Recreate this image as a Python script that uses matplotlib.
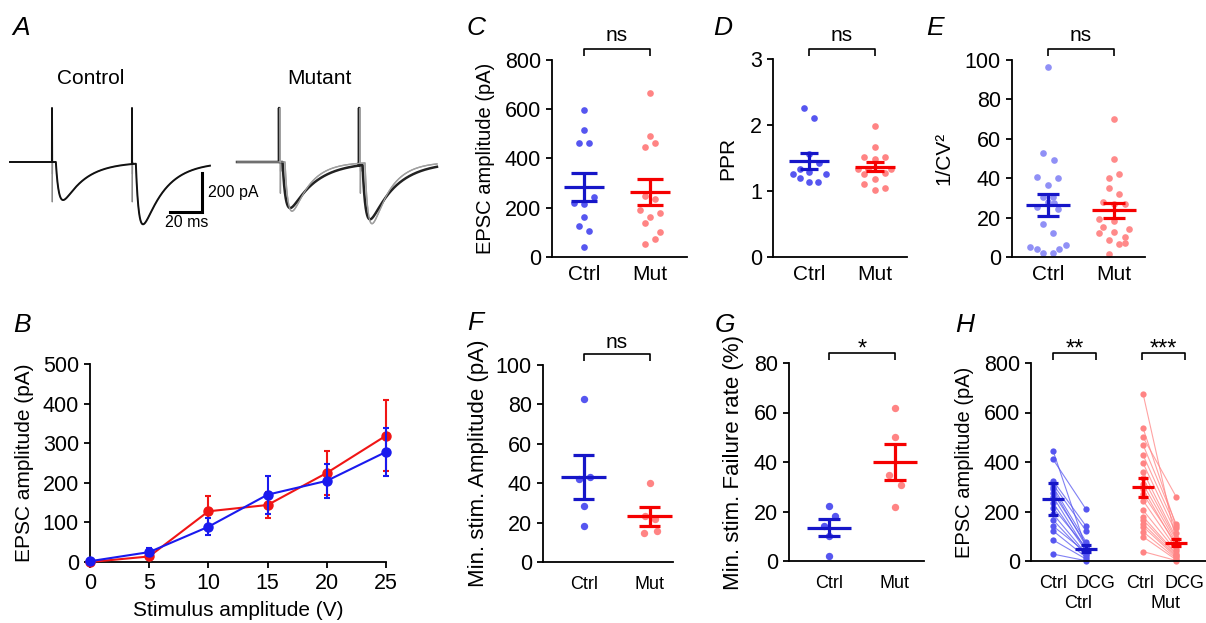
import numpy as np
import matplotlib
matplotlib.use('Agg')
import matplotlib.pyplot as plt
from matplotlib.transforms import blended_transform_factory

plt.rcParams['font.family'] = ['Liberation Sans', 'DejaVu Sans']

W, H = 1206, 623

# ---------------- data ----------------
# A: example traces (parameters)
sweep_ms = 125.0
stim_times = [26.25, 76.25]
ctrl_amps = [195, 313]
mut_amps_dark = [236, 282]
mut_amps_grey = [252, 313]
art_up = 277
art_down_ctrl = -205
art_down_mut = -160
tau_rise = [2.0, 2.0, 2.2]      # control, mutant dark, mutant grey
tau_decay = [14.0, 16.0, 11.0]
latency = [2.4, 2.2, 3.0]
mut_offset_ms = 141.9

# B: input-output
stim_v = [0, 5, 10, 15, 20, 25]
b_ctrl = [2, 25, 89, 170, 205, 278]
b_ctrl_err = [0, 10, 21, 48, 43, 61]
b_mut = [0, 14, 128, 144, 225, 319]
b_mut_err = [0, 5, 38, 33, 56, 90]

groups = ["Ctrl", "Mut"]

# C: EPSC amplitude
c_ctrl = [596, 515, 461, 461, 219, 215, 244, 163, 126, 106, 41]
c_ctrl_jit = [0, 0, -0.075, 0.075, -0.15, 0, 0.15, 0, -0.075, 0.075, 0]
c_mut = [667, 491, 447, 464, 248, 236, 191, 163, 179, 138, 102, 73, 53]
c_mut_jit = [0, 0, -0.075, 0.075, -0.075, 0.075, -0.15, 0, 0.15, -0.075, 0.15, 0.075, -0.075]
c_mean = [285, 264]
c_sem = [58, 54]

# D: PPR
d_ctrl = [2.25, 2.11, 1.56, 1.43, 1.26, 1.33, 1.29, 1.25, 1.20, 1.14, 1.14]
d_ctrl_jit = [-0.07, 0.08, 0, 0.15, -0.25, -0.14, 0, 0.25, -0.14, 0, 0.13]
d_mut = [1.98, 1.66, 1.51, 1.51, 1.48, 1.33, 1.33, 1.33, 1.25, 1.27, 1.18, 1.11, 1.01, 1.04]
d_mut_jit = [0, 0, -0.16, 0.15, 0, -0.26, -0.1, 0.25, -0.16, 0.15, 0, -0.16, 0, 0.15]
d_mean = [1.45, 1.37]
d_sem = [0.12, 0.07]

# E: 1/CV^2
e_ctrl = [96.6, 52.9, 49.2, 40.7, 40.3, 36.4, 30.5, 30.5, 28.0, 25.4, 27.6, 24.2,
          16.6, 12.4, 5.1, 3.9, 2.2, 2.2, 4.2, 5.9]
e_ctrl_jit = [0, -0.076, 0.086, -0.16, 0.15, 0, -0.076, 0.076, 0, -0.16, 0.086, 0.15,
              -0.076, 0.076, -0.27, -0.16, -0.076, 0.076, 0.17, 0.28]
e_mut = [69.8, 49.5, 40.3, 42.0, 35.1, 31.9, 28.0, 26.8, 27.1, 19.5, 15.3, 18.1,
         14.4, 12.7, 12.2, 8.8, 10.2, 6.8, 7.1, 1.7]
e_mut_jit = [0, 0, -0.08, 0.08, -0.08, 0.08, -0.16, 0, 0.16, -0.23, -0.16, 0,
             0.23, 0, -0.23, -0.08, 0.16, 0.08, 0.16, -0.08]
e_mean = [26.3, 23.7]
e_sem = [5.6, 3.7]

# F: minimal stimulation amplitude
f_ctrl = [82.9, 41.9, 43.2, 28.3, 18.5]
f_ctrl_jit = [0, -0.08, 0.086, 0, 0]
f_mut = [40.2, 23.2, 22.0, 14.9, 15.8]
f_mut_jit = [0, -0.07, 0.08, -0.09, 0.1]
f_mean = [43.2, 23.2]
f_sem = [11.0, 4.7]

# G: minimal stimulation failure rate
g_ctrl = [22.4, 18.0, 14.0, 9.9, 2.0]
g_ctrl_jit = [0, 0.086, -0.08, 0, 0]
g_mut = [61.8, 49.9, 34.8, 30.8, 21.7]
g_mut_jit = [0, 0, -0.09, 0.09, 0]
g_mean = [13.5, 40.0]
g_sem = [3.5, 7.2]

# H: DCG paired
h_ctrl_base = [446, 411, 325, 310, 300, 290, 275, 260, 235, 215, 190, 166, 141, 122, 85, 28]
h_ctrl_dcg = [52, 209, 141, 122, 78, 60, 70, 45, 40, 55, 30, 24, 35, 15, 8, 1]
h_mut_base = [675, 536, 500, 469, 428, 395, 361, 335, 310, 290, 270, 244, 205, 179,
              166, 150, 139, 118, 98, 38]
h_mut_dcg = [80, 140, 260, 150, 133, 113, 93, 85, 75, 60, 70, 50, 40, 30, 25, 20,
             15, 10, 5, 2]
h_mean = [250, 50, 298, 74]
h_sem = [64, 14, 38, 14]
h_ticklabels = ["Ctrl", "DCG", "Ctrl", "DCG"]
h_grouplabels = ["Ctrl", "Mut"]

# ---------------- styles ----------------
CTRL_DOT = "#5656f0"
MUT_DOT = "#ff8484"
CTRL_DOT_E = "#9090f6"
MUT_DOT_E = "#ff8a8a"
CTRL_LINE = "#1616c8"
MUT_LINE = "#f50000"
B_BLUE = "#1a1aee"
B_RED = "#f01515"
YTICK = 15.5

fig = plt.figure(figsize=(W / 100, H / 100), dpi=100)


def px_axes(l, t, r, b):
    return fig.add_axes([l / W, 1 - b / H, (r - l) / W, (b - t) / H])


def style(ax, xtick_size=15, xpad=6):
    for s in ['top', 'right']:
        ax.spines[s].set_visible(False)
    for s in ['left', 'bottom']:
        ax.spines[s].set_linewidth(1.3)
    ax.tick_params(axis='y', direction='out', length=4, width=1.3, labelsize=YTICK, pad=4)
    ax.tick_params(axis='x', length=0, labelsize=xtick_size, pad=xpad)


def letter(x, y, s):
    fig.text(x / W, 1 - y / H, s, fontsize=19, style='italic', ha='center', va='center')


def bracket(ax, x1, x2, ax_h, text, top_px=11, text_px=19, fs=15):
    tr = blended_transform_factory(ax.transData, ax.transAxes)
    yt = 1 + top_px / ax_h
    yb = 1 + (top_px - 7) / ax_h
    ax.plot([x1, x1, x2, x2], [yb, yt, yt, yb], transform=tr, color='k', lw=1.2,
            clip_on=False, solid_capstyle='butt')
    ax.text((x1 + x2) / 2, 1 + text_px / ax_h, text, transform=tr, ha='center',
            va='baseline', fontsize=fs)


def mean_sem(ax, x, m, s, color, half, cap):
    ax.hlines(m, x - half, x + half, color=color, lw=2.3, zorder=4)
    ax.vlines(x, m - s, m + s, color=color, lw=2.3, zorder=4)
    ax.hlines([m - s, m + s], x - cap, x + cap, color=color, lw=2.3, zorder=4)


def dot_panel(ax, ctrl, cj, mut, mj, means, sems, dotcols, ms, half, cap):
    for i, (v, j) in enumerate([(ctrl, cj), (mut, mj)]):
        ax.plot(i + np.array(j), v, 'o', color=dotcols[i], ms=ms, mec='none',
                clip_on=False, zorder=2)
        mean_sem(ax, i, means[i], sems[i], [CTRL_LINE, MUT_LINE][i], half, cap)
    ax.set_xticks([0, 1])
    ax.set_xticklabels(groups)


# ---------------- A ----------------
axA = px_axes(0, 95, 450, 235)
axA.axis('off')
axA.set_xlim(-10 / 1.6, 440 / 1.6)
axA.set_ylim(-(235 - 162) / 0.195, (162 - 95) / 0.195)

dt = 0.05
t = np.arange(0, sweep_ms, dt)


def epsc(t0, amp, tr, td, lat):
    s = np.clip(t - t0 - lat, 0, None)
    tp = tr * td / (td - tr) * np.log(td / tr)
    norm = np.exp(-tp / td) - np.exp(-tp / tr)
    g = np.exp(-s / td) - np.exp(-s / tr)
    return -amp * g / norm


def make_trace(amps, k, down, shift=0.0):
    y = np.zeros_like(t)
    for st, a in zip(stim_times, amps):
        y += epsc(st + shift, a, tau_rise[k], tau_decay[k], latency[k])
    ys_full = y.copy()
    ys_up = y.copy()
    for st in stim_times:
        i0 = int(round((st + shift) / dt))
        ys_full[i0] = art_up
        ys_full[i0 + 3] = down
        ys_full[i0 + 6] = down * 0.3
        ys_up[i0] = art_up
        ys_up[i0 + 2] = 0
    return ys_full, ys_up


cf, cu = make_trace(ctrl_amps, 0, art_down_ctrl)
axA.plot(t, cf, color='#8a8a8a', lw=0.8)
axA.plot(t, cu, color='#111111', lw=1.4)

tm = t + mut_offset_ms
gf, gu = make_trace(mut_amps_grey, 2, art_down_mut, shift=0.7)
df, du = make_trace(mut_amps_dark, 1, art_down_mut * 0.6)
axA.plot(tm, gf, color='#9a9a9a', lw=1.0)
axA.plot(tm, du, color='#222222', lw=1.8)
axA.plot(tm, gu, color='#a0a0a0', lw=0.9)

# scale bar: 20 ms, 200 pA
sb_x = (202 - 10) / 1.6
sb_y = -(212 - 162) / 0.195
axA.plot([sb_x - 20, sb_x, sb_x], [sb_y, sb_y, sb_y + 200], color='k', lw=2.2,
         solid_joinstyle='miter')
axA.text(sb_x + 3.5, sb_y + 100, "200 pA", fontsize=11.5, ha='left', va='center')
axA.text(sb_x - 9.5, sb_y - 13, "20 ms", fontsize=11.5, ha='center', va='top')
fig.text(91 / W, 1 - 78 / H, "Control", fontsize=15, ha='center', va='center')
fig.text(319 / W, 1 - 78 / H, "Mutant", fontsize=15, ha='center', va='center')

# ---------------- B ----------------
axB = px_axes(90, 364, 386, 562)
style(axB, xtick_size=YTICK)
axB.errorbar(stim_v, b_mut, yerr=b_mut_err, color=B_RED, marker='o', ms=6.5, lw=1.5,
             elinewidth=1.5, capsize=2.5, capthick=1.5, clip_on=False, zorder=3)
axB.errorbar(stim_v, b_ctrl, yerr=b_ctrl_err, color=B_BLUE, marker='o', ms=6.5, lw=1.5,
             elinewidth=1.5, capsize=2.5, capthick=1.5, clip_on=False, zorder=4)
axB.set_xlim(0, 25)
axB.set_ylim(0, 500)
axB.set_xticks(stim_v)
axB.set_yticks([0, 100, 200, 300, 400, 500])
axB.tick_params(axis='x', length=4, width=1.3, direction='out', pad=4)
axB.set_xlabel("Stimulus amplitude (V)", fontsize=15, labelpad=5)
axB.set_ylabel("EPSC amplitude (pA)", fontsize=15, labelpad=6)

# ---------------- C ----------------
axC = px_axes(552, 60, 687, 257)
style(axC)
dot_panel(axC, c_ctrl, c_ctrl_jit, c_mut, c_mut_jit, c_mean, c_sem,
          [CTRL_DOT, MUT_DOT], 4.8, 0.31, 0.19)
axC.set_xlim(-0.485, 1.56)
axC.set_ylim(0, 800)
axC.set_yticks([0, 200, 400, 600, 800])
axC.set_ylabel("EPSC amplitude (pA)", fontsize=14.5, labelpad=7)
bracket(axC, 0, 1, 197, "ns")

# ---------------- D ----------------
axD = px_axes(773, 59, 907, 257)
style(axD)
dot_panel(axD, d_ctrl, d_ctrl_jit, d_mut, d_mut_jit, d_mean, d_sem,
          [CTRL_DOT, MUT_DOT], 4.8, 0.31, 0.14)
axD.set_xlim(-0.546, 1.485)
axD.set_ylim(0, 3)
axD.set_yticks([0, 1, 2, 3])
axD.set_ylabel("PPR", fontsize=15, labelpad=9)
bracket(axD, 0, 1, 198, "ns", top_px=10, text_px=18)

# ---------------- E ----------------
axE = px_axes(1012, 60, 1145, 257)
style(axE)
dot_panel(axE, e_ctrl, e_ctrl_jit, e_mut, e_mut_jit, e_mean, e_sem,
          [CTRL_DOT_E, MUT_DOT_E], 4.8, 0.33, 0.16)
axE.set_xlim(-0.546, 1.47)
axE.set_ylim(0, 100)
axE.set_yticks([0, 20, 40, 60, 80, 100])
axE.set_ylabel("1/CV²", fontsize=15, labelpad=8)
bracket(axE, 0, 1, 197, "ns")

# ---------------- F ----------------
axF = px_axes(543, 365, 673, 562)
style(axF, xtick_size=13, xpad=10)
dot_panel(axF, f_ctrl, f_ctrl_jit, f_mut, f_mut_jit, f_mean, f_sem,
          [CTRL_DOT, MUT_DOT], 5.3, 0.34, 0.16)
axF.set_xlim(-0.62, 1.35)
axF.set_ylim(0, 100)
axF.set_yticks([0, 20, 40, 60, 80, 100])
axF.set_ylabel("Min. stim. Amplitude (pA)", fontsize=16, labelpad=5)
bracket(axF, 0, 1, 197, "ns", top_px=11, text_px=17)

# ---------------- G ----------------
axG = px_axes(789, 363, 924, 561)
style(axG, xtick_size=13, xpad=10)
dot_panel(axG, g_ctrl, g_ctrl_jit, g_mut, g_mut_jit, g_mean, g_sem,
          [CTRL_DOT, MUT_DOT], 5.3, 0.33, 0.16)
axG.set_xlim(-0.605, 1.44)
axG.set_ylim(0, 80)
axG.set_yticks([0, 20, 40, 60, 80])
axG.set_ylabel("Min. stim. Failure rate (%)", fontsize=16, labelpad=7)
bracket(axG, 0, 1, 198, "*", top_px=10, text_px=7, fs=17)

# ---------------- H ----------------
axH = px_axes(1031, 363, 1206, 561)
style(axH, xtick_size=13, xpad=10)
h_pos = [0, 1, 2.73, 3.73]
h_ticks = [0, 1.3, 2.64, 3.98]
for (b, d, x0, x1, col) in [(h_ctrl_base, h_ctrl_dcg, h_pos[0], h_pos[1], CTRL_DOT),
                           (h_mut_base, h_mut_dcg, h_pos[2], h_pos[3], MUT_DOT)]:
    for yb, yd in zip(b, d):
        axH.plot([x0, x1], [yb, yd], color=col, lw=0.8, alpha=0.75, zorder=1,
                 clip_on=False)
    axH.plot([x0] * len(b), b, 'o', color=col, ms=4.5, mec='none', zorder=2, clip_on=False)
    axH.plot([x1] * len(d), d, 'o', color=col, ms=4.5, mec='none', zorder=2, clip_on=False)
for i in range(4):
    mean_sem(axH, h_pos[i], h_mean[i], h_sem[i], CTRL_LINE if i < 2 else MUT_LINE,
             0.33, 0.16)
axH.set_xlim(-0.667, 4.636)
axH.set_ylim(0, 800)
axH.set_yticks([0, 200, 400, 600, 800])
axH.set_xticks(h_ticks)
axH.set_xticklabels(h_ticklabels)
axH.set_ylabel("EPSC amplitude (pA)", fontsize=14.5, labelpad=7)
bracket(axH, 0, 1.3, 198, "**", top_px=10, text_px=7, fs=17)
bracket(axH, 2.7, 4.0, 198, "***", top_px=10, text_px=7, fs=17)
fig.text(1078 / W, 1 - 604 / H, h_grouplabels[0], fontsize=13, ha='center', va='center')
fig.text(1165 / W, 1 - 604 / H, h_grouplabels[1], fontsize=13, ha='center', va='center')

# panel letters
letter(21, 28, "A")
letter(476, 28, "C")
letter(723, 28, "D")
letter(935, 28, "E")
letter(22, 325, "B")
letter(475, 323, "F")
letter(725, 325, "G")
letter(965, 325, "H")

fig.savefig("out.png", dpi=100)
